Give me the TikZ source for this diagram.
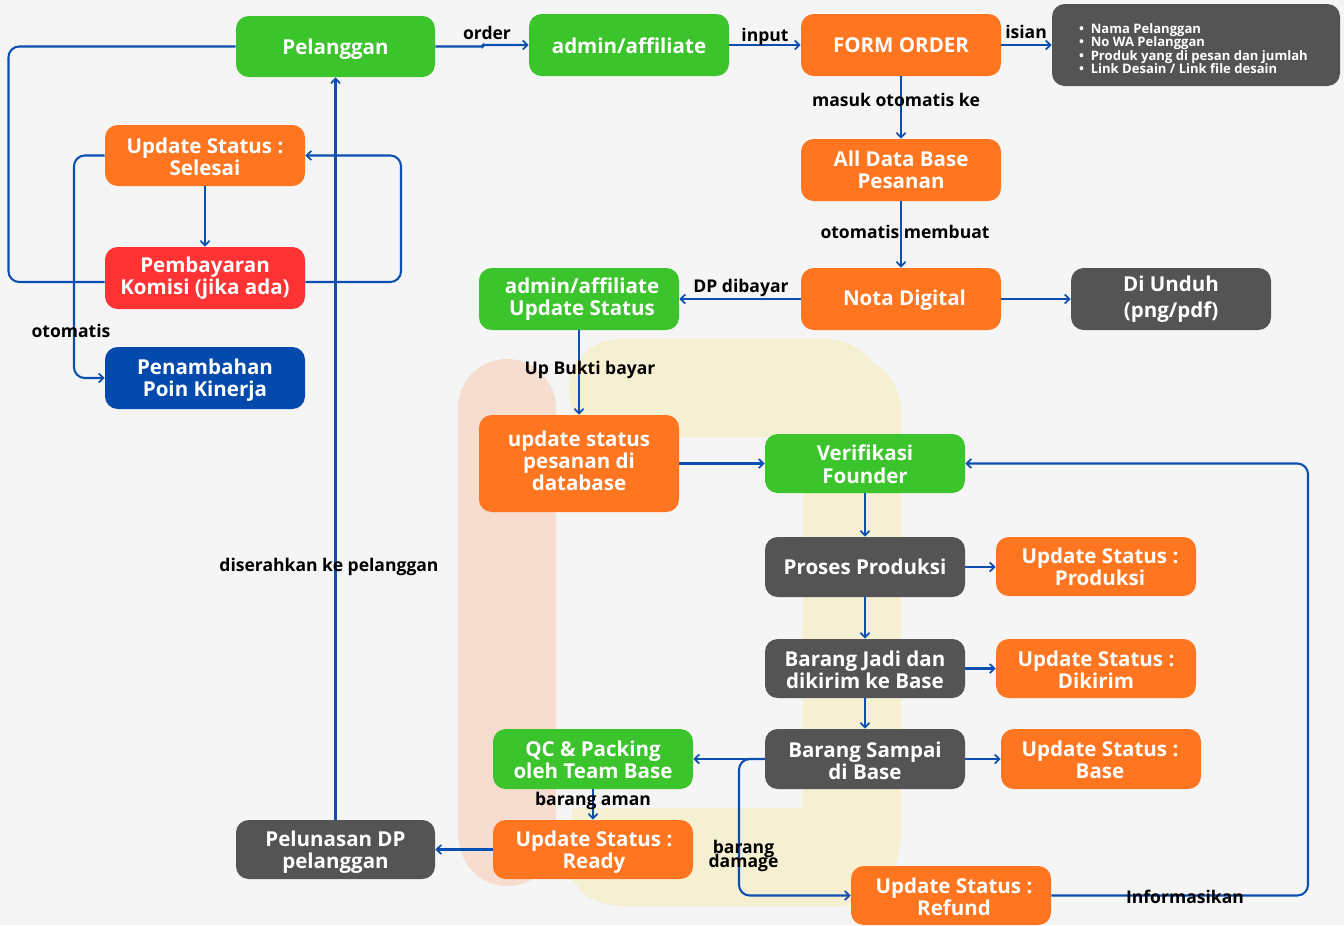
\documentclass[tikz,border=0pt]{standalone}
\usepackage{fontspec}
\setmainfont{Open Sans}[BoldFont={Open Sans Bold}]
\usetikzlibrary{arrows.meta}
\definecolor{bgc}{HTML}{F5F5F5}
\definecolor{grn}{HTML}{3CC42C}
\definecolor{org}{HTML}{FF7520}
\definecolor{redc}{HTML}{FF3333}
\definecolor{blu}{HTML}{034AAC}
\definecolor{drk}{HTML}{545454}
\definecolor{lnc}{HTML}{0B4FB0}
\definecolor{pinkbg}{HTML}{F6DDD0}
\definecolor{yelbg}{HTML}{F6F0D2}
\tikzset{
  box/.style={rounded corners=9.5pt,inner sep=0pt},
  boxtxt/.style={inner sep=0pt,align=center,text=white,
    font=\bfseries\fontsize{15.4}{16.5}\selectfont},
  listtxt/.style={boxtxt,align=left,font=\bfseries\fontsize{9.8}{10}\selectfont},
  grnbox/.style={box,fill=grn},
  orgbox/.style={box,fill=org},
  redbox/.style={box,fill=redc},
  blubox/.style={box,fill=blu},
  drkbox/.style={box,fill=drk},
  lbl/.style={inner sep=0pt,align=center,text=black,font=\bfseries\fontsize{13.15}{13}\selectfont},
  conn/.style={draw=lnc,line width=1.55pt,rounded corners=8pt},
  arr/.style={conn,-{Straight Barb[length=3.6pt,width=6.8pt,line width=1.3pt]}},
}
% name, x1, y1, x2, y2, style, text offset x, text offset y, text
\newcommand{\boxn}[9]{%
  \pgfmathsetmacro{\cxv}{(#2+#4)/2}\pgfmathsetmacro{\cyv}{(#3+#5)/2}%
  \node[#6,minimum width={(#4-#2)*0.75pt},minimum height={(#5-#3)*0.75pt},
    label={[boxtxt,xshift={(#7)*0.75pt},yshift={-(#8)*0.75pt}]center:{#9}}] (#1) at (\cxv,\cyv) {};}
\newcommand{\bul}[1]{•\hspace{5pt}#1}
\begin{document}
\begin{tikzpicture}[x=0.75pt,y=-0.75pt]
\path[use as bounding box,fill=bgc] (0,0) rectangle (1344,925);
% background bands
\fill[pinkbg] (458,408) .. controls (458,381) and (480,359) .. (507,359) .. controls (534,359) and (556,381) .. (556,408) -- (556,830) .. controls (556,865) and (535,886) .. (507,886) .. controls (480,886) and (458,865) .. (458,830) -- cycle;
\fill[yelbg] (569,388) .. controls (569,360) and (592,339) .. (620,339) -- (825,339) .. controls (845,339) and (862,348) .. (873,363) .. controls (890,372) and (901,390) .. (901,412) -- (901,830) .. controls (901,875) and (880,906) .. (840,906) -- (625,906) .. controls (598,906) and (578,895) .. (572,875) -- (572,808) -- (802,808) -- (803,437) -- (578,437) -- (578,420) .. controls (572,410) and (569,400) .. (569,388) -- cycle;
% nodes
\boxn{pel}{236}{16}{435}{77}{grnbox}{0}{2.5}{Pelanggan}
\boxn{adm}{529}{14}{729}{76}{grnbox}{0}{1}{admin/affiliate}
\boxn{form}{801}{14}{1001}{76}{orgbox}{0}{0}{FORM ORDER}
\boxn{isi}{1052}{4}{1340}{86}{drkbox}{0}{0}{}
\boxn{adb}{801}{139}{1001}{201}{orgbox}{0}{0}{All Data Base\\Pesanan}
\boxn{nota}{801}{268}{1001}{330}{orgbox}{3.5}{1}{Nota Digital}
\boxn{adm2}{479}{268}{679}{330}{grnbox}{3}{0}{admin/affiliate\\Update Status}
\boxn{und}{1071}{268}{1271}{330}{drkbox}{0}{0.5}{Di Unduh\\[3pt](png/pdf)}
\boxn{upd}{479}{415}{679}{512}{orgbox}{0}{-2.5}{update status\\pesanan di\\database}
\boxn{ver}{765}{434}{965}{493}{grnbox}{0}{1}{Verifikasi\\[1pt]Founder}
\boxn{pro}{765}{537}{965}{597}{drkbox}{0}{0}{Proses Produksi}
\boxn{spro}{996}{537}{1196}{596}{orgbox}{4}{0}{Update Status :\\Produksi}
\boxn{jadi}{765}{639}{965}{698}{drkbox}{0}{1}{Barang Jadi dan\\dikirim ke Base}
\boxn{sdik}{996}{639}{1196}{698}{orgbox}{0}{1}{Update Status :\\Dikirim}
\boxn{smp}{765}{729}{965}{789}{drkbox}{0}{1.5}{Barang Sampai\\di Base}
\boxn{sbas}{1001}{729}{1201}{789}{orgbox}{-1}{1}{Update Status :\\Base}
\boxn{qc}{493}{729}{693}{789}{grnbox}{0}{1}{QC \& Packing\\oleh Team Base}
\boxn{rdy}{493}{820}{693}{879}{orgbox}{1}{2.5}{Update Status :\\Ready}
\boxn{lun}{236}{820}{435}{879}{drkbox}{0}{2.5}{Pelunasan DP\\pelanggan}
\boxn{ref}{851}{866}{1051}{925}{orgbox}{3}{1}{Update Status :\\Refund}
\boxn{sel}{105}{125}{305}{186}{orgbox}{0}{1}{Update Status :\\Selesai}
\boxn{kom}{105}{247}{305}{309}{redbox}{0}{0}{Pembayaran\\Komisi (jika ada)}
\boxn{poin}{105}{347}{305}{409}{blubox}{0}{2.5}{Penambahan\\Poin Kinerja}
\node[listtxt] (isitxt) at (1193.5,48.5) {\bul{Nama Pelanggan}\\\bul{No WA Pelanggan}\\\bul{Produk yang di pesan dan jumlah}\\\bul{Link Desain / Link file desain}};
% connectors
\draw[arr,rounded corners=1pt] (pel.east) -- (483,46.5) -- (483,45) -- (adm.west);
\draw[arr] (adm.east) -- (form.west);
\draw[arr] (form.east) -- (form.east -| isi.west);
\draw[arr] (form.south) -- (adb.north);
\draw[arr] (adb.south) -- (adb.south |- nota.north);
\draw[arr] (nota.west) -- (adm2.east);
\draw[arr] (nota.east) -- (und.west);
\draw[arr] (adm2.south) -- (upd.north);
\draw[arr] (upd.east |- ver.west) -- (ver.west);
\draw[arr] (ver.south) -- (pro.north);
\draw[arr] (pro.east) -- (spro.west |- pro.east);
\draw[arr] (pro.south) -- (jadi.north);
\draw[arr] (jadi.east) -- (sdik.west);
\draw[arr] (jadi.south) -- (smp.north);
\draw[arr] (smp.east) -- (sbas.west);
\draw[arr] (smp.west) -- (qc.east);
\draw[arr] (smp.west) -- (739,759) -- (739,895.5) -- (ref.west);
\draw[arr] (qc.south) -- (rdy.north -| qc.south);
\draw[arr] (rdy.west) -- (lun.east);
\draw[arr] (lun.north) -- (pel.south);
\draw[arr] (ref.east) -- (1308,895.5) -- (1308,463.5) -- (ver.east);
\draw[conn] (pel.west) -- (8.5,46.5) -- (8.5,282) -- (kom.west |- 0,282);
\draw[arr] (kom.east |- 0,282) -- (401,282) -- (401,155.5) -- (sel.east);
\draw[arr] (sel.south) -- (kom.north);
\draw[arr] (sel.west) -- (74,155.5) -- (74,378) -- (poin.west);
% labels
\node[lbl] (l1) at (487,33) {order};
\node[lbl] (l2) at (765,36.5) {input};
\node[lbl] (l3) at (1026,32) {isian};
\node[lbl] (l4) at (896,100) {masuk otomatis ke};
\node[lbl] (l5) at (905,232) {otomatis membuat};
\node[lbl] (l6) at (741,287.5) {DP dibayar};
\node[lbl] (l7) at (590,369.5) {Up Bukti bayar};
\node[lbl] (l8) at (71,331) {otomatis};
\node[lbl] (l9) at (329,566.5) {diserahkan ke pelanggan};
\node[lbl] (l10) at (593,800.5) {barang aman};
\node[lbl] (l11) at (743.5,849) {barang};
\node[lbl] (l13) at (743.5,862.5) {damage};
\node[lbl] (l12) at (1185,897) {Informasikan};
\end{tikzpicture}
\end{document}
